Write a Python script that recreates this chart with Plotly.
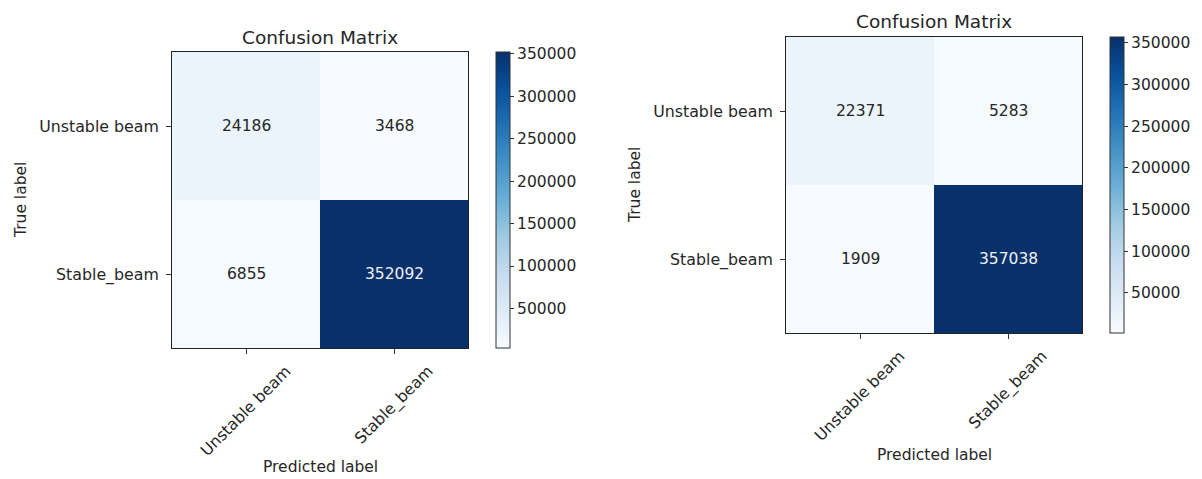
import plotly.graph_objects as go

# Class names and confusion matrices (rows: true label, cols: predicted label)
class_names = ["Unstable beam", "Stable_beam"]
cm_left = [[24186, 3468],
           [6855, 352092]]
cm_right = [[22371, 5283],
            [1909, 357038]]
cbar_ticks = [50000, 100000, 150000, 200000, 250000, 300000, 350000]

W, H = 1202, 479
FONT = "DejaVu Sans"
TXT = "#262626"
BLUES = [[0.0, "rgb(247,251,255)"], [0.125, "rgb(222,235,247)"],
         [0.25, "rgb(198,219,239)"], [0.375, "rgb(158,202,225)"],
         [0.5, "rgb(107,174,214)"], [0.625, "rgb(66,146,198)"],
         [0.75, "rgb(33,113,181)"], [0.875, "rgb(8,81,156)"],
         [1.0, "rgb(8,48,107)"]]


def px(x):
    return x / W


def py(y):
    return 1 - y / H


# panel boxes in pixels: (left, right, top, bottom, colorbar-left, xlabel-y)
panels = [
    (172, 468, 52, 348, 496, 467, cm_left),
    (786, 1082, 37, 333, 1110, 455, cm_right),
]

fig = go.Figure()
annotations = []
layout = {}

for i, (x0, x1, y0, y1, cbx, xly, cm) in enumerate(panels):
    n = i + 1
    xa = "x" if n == 1 else f"x{n}"
    ya = "y" if n == 1 else f"y{n}"
    flat = [v for row in cm for v in row]
    zmin, zmax = min(flat), max(flat)
    fig.add_trace(go.Heatmap(
        z=cm, x=[0, 1], y=[0, 1], xaxis=xa, yaxis=ya,
        colorscale=BLUES, zmin=zmin, zmax=zmax,
        hoverinfo="skip",
        colorbar=dict(
            x=px(cbx), xanchor="left", xpad=0, ypad=0,
            y=py((y0 + y1) / 2), yanchor="middle",
            len=y1 - y0, lenmode="pixels", thickness=14,
            outlinecolor="#333333", outlinewidth=1,
            tickvals=cbar_ticks, tickformat="d",
            ticks="outside", ticklen=4, tickcolor="#333333",
            tickfont=dict(family=FONT, size=15.5, color=TXT),
        ),
    ))
    layout[f"xaxis{'' if n == 1 else n}"] = dict(
        domain=[px(x0), px(x1)], anchor=ya, range=[-0.5, 1.5],
        showgrid=False, zeroline=False, showline=True, mirror=True,
        linecolor="#222222", linewidth=1,
        tickvals=[0, 1], ticktext=class_names, showticklabels=False,
        ticks="outside", ticklen=5, tickcolor="#333333",
    )
    layout[f"yaxis{'' if n == 1 else n}"] = dict(
        domain=[py(y1), py(y0)], anchor=xa, range=[1.5, -0.5],
        showgrid=False, zeroline=False, showline=True, mirror=True,
        linecolor="#222222", linewidth=1,
        tickvals=[0, 1], ticktext=class_names,
        ticks="outside", ticklen=5, tickcolor="#333333",
        ticklabelstandoff=4,
        tickfont=dict(family=FONT, size=15.8, color=TXT),
    )
    # cell counts
    thresh = zmax / 2
    for r in range(2):
        for c in range(2):
            v = cm[r][c]
            annotations.append(dict(
                x=c, y=r, xref=xa, yref=ya, text=str(v), showarrow=False,
                font=dict(family=FONT, size=15.5,
                          color="#f0f0f0" if v > thresh else TXT),
            ))
    # rotated predicted-class labels
    for c, name in enumerate(class_names):
        annotations.append(dict(
            x=c, y=py(y1 + 11), xref=xa, yref="paper", text=name,
            showarrow=False, textangle=-45, xanchor="center", yanchor="top",
            font=dict(family=FONT, size=15.8, color=TXT),
        ))
    # title and axis labels
    annotations.append(dict(
        x=px((x0 + x1) / 2), y=py(y0 - 15), xref="paper", yref="paper",
        text="Confusion Matrix", showarrow=False,
        xanchor="center", yanchor="middle",
        font=dict(family=FONT, size=18.5, color=TXT),
    ))
    annotations.append(dict(
        x=px((x0 + x1) / 2), y=py(xly), xref="paper", yref="paper",
        text="Predicted label", showarrow=False,
        xanchor="center", yanchor="middle",
        font=dict(family=FONT, size=15.5, color=TXT),
    ))
    annotations.append(dict(
        x=px(x0 - 151), y=py((y0 + y1) / 2), xref="paper", yref="paper",
        text="True label", showarrow=False, textangle=-90,
        xanchor="center", yanchor="middle",
        font=dict(family=FONT, size=15.5, color=TXT),
    ))

fig.update_layout(
    width=W, height=H, margin=dict(l=0, r=0, t=0, b=0),
    paper_bgcolor="white", plot_bgcolor="white",
    font=dict(family=FONT, color=TXT),
    annotations=annotations, showlegend=False,
    **layout,
)

fig.write_html("out.html")
